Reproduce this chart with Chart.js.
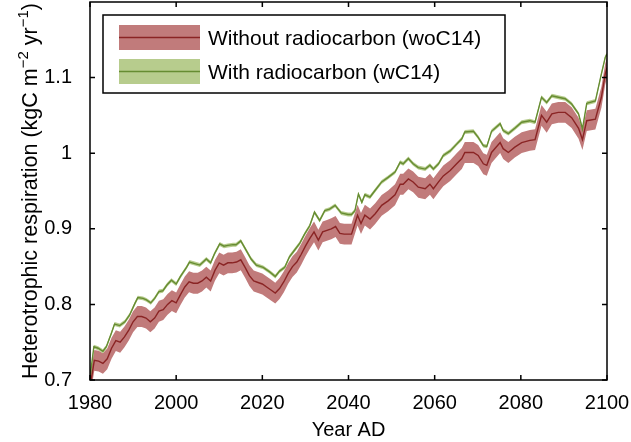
<!DOCTYPE html>
<html>
<head>
<meta charset="utf-8">
<script src="https://cdn.jsdelivr.net/npm/chart.js@4/dist/chart.umd.min.js"></script>
<style>
html, body { margin: 0; padding: 0; background: #fff; }
#wrap { width: 631px; height: 442px; }
</style>
</head>
<body>
<div id="wrap"><canvas id="resp"></canvas></div>
<script>
// heterotrophic respiration, kgC m-2 yr-1
const woYears = [1980, 1981, 1982, 1983, 1984, 1985, 1986, 1987, 1988, 1989,
  1990, 1991, 1992, 1993, 1994, 1995, 1996, 1997, 1998, 1999,
  2000, 2001, 2002, 2003, 2004, 2005, 2006, 2007, 2008, 2009,
  2010, 2011, 2012, 2013, 2014, 2015, 2016, 2017, 2018, 2019,
  2020, 2021, 2022, 2023, 2024, 2025, 2026, 2027, 2028, 2029,
  2030, 2031, 2032, 2033, 2034, 2035, 2036, 2037, 2038, 2039,
  2040.7, 2042.1, 2042.9, 2043.8, 2045, 2046.2, 2047.7, 2049.2, 2050.8, 2052,
  2052.7, 2053.9, 2055, 2056.2, 2057.8, 2058.9, 2059.7, 2060.9, 2062, 2063.6,
  2065.1, 2066.3, 2067, 2069, 2070.1, 2071.3, 2072.1, 2073.2, 2075.2, 2075.9,
  2077.1, 2078.6, 2080.2, 2082.1, 2083.3, 2084.8, 2086, 2087.2, 2088.7, 2090.3,
  2091.8, 2093.4, 2094.3, 2095.3, 2097.3, 2098.7, 2099.6, 2100];
const woC14 = [0.690, 0.726, 0.725, 0.722, 0.728, 0.742, 0.752, 0.750, 0.757, 0.766,
  0.777, 0.784, 0.784, 0.782, 0.777, 0.782, 0.791, 0.793, 0.800, 0.805,
  0.802, 0.813, 0.823, 0.830, 0.828, 0.828, 0.831, 0.836, 0.831, 0.845,
  0.855, 0.852, 0.855, 0.855, 0.856, 0.859, 0.849, 0.838, 0.831, 0.829,
  0.827, 0.823, 0.819, 0.815, 0.821, 0.830, 0.841, 0.850, 0.856, 0.866,
  0.877, 0.887, 0.896, 0.885, 0.896, 0.898, 0.900, 0.903, 0.894, 0.893,
  0.893, 0.918, 0.907, 0.918, 0.913, 0.920, 0.931, 0.937, 0.945, 0.959,
  0.959, 0.966, 0.962, 0.955, 0.953, 0.959, 0.953, 0.962, 0.970, 0.977,
  0.986, 0.993, 1.001, 1.001, 0.997, 0.986, 0.984, 1.001, 1.014, 1.006,
  1.001, 1.008, 1.014, 1.017, 1.018, 1.050, 1.041, 1.052, 1.054, 1.054,
  1.047, 1.033, 1.018, 1.043, 1.045, 1.074, 1.105, 1.113];

const wYears = [1980, 1980.9, 1981.9, 1983, 1983.8, 1984.9, 1985.7, 1986.9, 1988.1, 1989.2,
  1990.4, 1991.1, 1992.3, 1993.1, 1994.1, 1995, 1996, 1996.9, 1997.9, 1998.9,
  2000, 2001, 2002.4, 2003.1, 2004.3, 2005.5, 2007, 2008, 2008.9, 2010.1,
  2011.1, 2012, 2013.2, 2013.9, 2015, 2015.9, 2017.4, 2018.6, 2020.2, 2021.7,
  2023, 2024, 2025.2, 2026.3, 2027.5, 2028.7, 2029.8, 2031, 2032.1, 2033.3,
  2034.5, 2035.6, 2036.9, 2038.3, 2039.9, 2040.7, 2041.5, 2042.3, 2043.1, 2043.8,
  2045, 2046.2, 2047.7, 2049.2, 2050.8, 2052, 2052.7, 2053.9, 2055, 2056.2,
  2057.8, 2058.9, 2059.7, 2060.9, 2062, 2063.6, 2065.1, 2066.3, 2067, 2069,
  2070.1, 2071.3, 2072.1, 2073.2, 2075.2, 2075.9, 2077.1, 2078.6, 2080.2, 2082.1,
  2083.3, 2084.8, 2086, 2087.2, 2088.7, 2090.3, 2091.8, 2093.4, 2094.3, 2095.3,
  2097.3, 2098.7, 2099.6, 2100];
const wC14 = [0.703, 0.744, 0.742, 0.738, 0.744, 0.761, 0.774, 0.772, 0.777, 0.786,
  0.801, 0.809, 0.808, 0.806, 0.802, 0.808, 0.817, 0.818, 0.826, 0.832,
  0.827, 0.837, 0.849, 0.856, 0.854, 0.852, 0.860, 0.855, 0.867, 0.880,
  0.877, 0.878, 0.879, 0.879, 0.884, 0.875, 0.860, 0.852, 0.849, 0.843,
  0.837, 0.844, 0.849, 0.863, 0.872, 0.881, 0.893, 0.904, 0.922, 0.911,
  0.924, 0.926, 0.931, 0.921, 0.919, 0.919, 0.924, 0.946, 0.935, 0.945,
  0.942, 0.951, 0.962, 0.968, 0.975, 0.988, 0.986, 0.993, 0.986, 0.981,
  0.979, 0.984, 0.979, 0.986, 0.997, 1.003, 1.012, 1.019, 1.028, 1.029,
  1.021, 1.010, 1.009, 1.029, 1.039, 1.030, 1.026, 1.033, 1.041, 1.043,
  1.041, 1.074, 1.067, 1.076, 1.074, 1.072, 1.065, 1.052, 1.032, 1.066,
  1.069, 1.105, 1.127, 1.131];

// half width of the shaded ranges
const woHalfWidth = 0.0138;
const wHalfWidth = 0.0026;

const xTicks = [1980, 2000, 2020, 2040, 2060, 2080, 2100];
const yTicks = [0.7, 0.8, 0.9, 1.0, 1.1];
const yTickLabels = ['0.7', '0.8', '0.9', '1', '1.1'];

const FONT = '"Liberation Sans", Arial, sans-serif';
const RED_BAND = 'rgb(193,123,123)';
const RED_LINE = 'rgb(138,36,36)';
const GREEN_BAND = 'rgb(183,204,141)';
const GREEN_LINE = 'rgb(102,140,50)';

function toPoints(xs, ys, shift) {
  return xs.map((x, i) => ({ x: x, y: ys[i] + shift }));
}

function drawYTitle(ctx, cx, cy) {
  const parts = [
    { t: 'Heterotrophic respiration (kgC m', size: 21.5, dy: 0 },
    { t: '\u22122', size: 15, dy: -9 },
    { t: ' yr', size: 21.5, dy: 0 },
    { t: '\u22121', size: 15, dy: -9 },
    { t: ')', size: 21.5, dy: 0 }
  ];
  ctx.save();
  ctx.translate(cx, cy);
  ctx.rotate(-Math.PI / 2);
  ctx.fillStyle = '#000';
  ctx.textBaseline = 'alphabetic';
  ctx.textAlign = 'left';
  let total = 0;
  parts.forEach(p => {
    ctx.font = p.size + 'px ' + FONT;
    p.w = ctx.measureText(p.t).width;
    total += p.w;
  });
  let x = -total / 2;
  parts.forEach(p => {
    ctx.font = p.size + 'px ' + FONT;
    ctx.fillText(p.t, x, 7 + p.dy);
    x += p.w;
  });
  ctx.restore();
}

function drawLegend(ctx) {
  const box = { l: 103, t: 15, r: 505, b: 93 };
  ctx.save();
  ctx.fillStyle = '#fff';
  ctx.fillRect(box.l, box.t, box.r - box.l, box.b - box.t);
  ctx.strokeStyle = '#000';
  ctx.lineWidth = 1.5;
  ctx.strokeRect(box.l, box.t, box.r - box.l, box.b - box.t);
  const rows = [
    { text: 'Without radiocarbon (woC14)', band: RED_BAND, line: RED_LINE, y: 25 },
    { text: 'With radiocarbon (wC14)', band: GREEN_BAND, line: GREEN_LINE, y: 59 }
  ];
  rows.forEach(r => {
    ctx.fillStyle = r.band;
    ctx.fillRect(119, r.y, 81, 25);
    ctx.strokeStyle = r.line;
    ctx.lineWidth = 1.5;
    ctx.beginPath();
    ctx.moveTo(119, r.y + 12.5);
    ctx.lineTo(200, r.y + 12.5);
    ctx.stroke();
    ctx.fillStyle = '#000';
    ctx.font = '21px ' + FONT;
    ctx.textBaseline = 'alphabetic';
    ctx.fillText(r.text, 208, r.y + 20);
  });
  ctx.restore();
}

const axesFrame = {
  id: 'axesFrame',
  afterDraw(chart) {
    const ctx = chart.ctx;
    const { left, right, top, bottom } = chart.chartArea;
    const xs = chart.scales.x, ys = chart.scales.y;
    ctx.save();
    ctx.strokeStyle = '#000';
    ctx.lineWidth = 1.5;
    ctx.strokeRect(left, top, right - left, bottom - top);
    ctx.beginPath();
    xTicks.forEach(v => {
      const px = xs.getPixelForValue(v);
      ctx.moveTo(px, bottom); ctx.lineTo(px, bottom - 5);
      ctx.moveTo(px, top); ctx.lineTo(px, top + 5);
    });
    yTicks.forEach(v => {
      const py = ys.getPixelForValue(v);
      ctx.moveTo(left, py); ctx.lineTo(left + 5, py);
      ctx.moveTo(right, py); ctx.lineTo(right - 5, py);
    });
    ctx.stroke();
    ctx.fillStyle = '#000';
    ctx.font = '20px ' + FONT;
    ctx.textAlign = 'center';
    ctx.textBaseline = 'alphabetic';
    ctx.fillText('Year AD', (left + right) / 2, 436);
    ctx.restore();
    drawYTitle(ctx, 30, (top + bottom) / 2);
    drawLegend(ctx);
  }
};

const band = (data, color, order, fill) => ({
  data: data, borderWidth: 0, borderColor: 'rgba(0,0,0,0)', backgroundColor: color,
  pointRadius: 0, fill: fill, order: order, tension: 0
});
const line = (data, color, order) => ({
  data: data, borderWidth: 1.4, borderColor: color, pointRadius: 0,
  fill: false, order: order, tension: 0
});

new Chart(document.getElementById('resp'), {
  type: 'line',
  data: {
    datasets: [
      band(toPoints(woYears, woC14, -woHalfWidth), RED_BAND, 4, false),
      band(toPoints(woYears, woC14, woHalfWidth), RED_BAND, 4, '-1'),
      line(toPoints(woYears, woC14, 0), RED_LINE, 3),
      band(toPoints(wYears, wC14, -wHalfWidth), GREEN_BAND, 2, false),
      band(toPoints(wYears, wC14, wHalfWidth), GREEN_BAND, 2, '-1'),
      line(toPoints(wYears, wC14, 0), GREEN_LINE, 1)
    ]
  },
  options: {
    responsive: true,
    maintainAspectRatio: false,
    animation: false,
    layout: { padding: { top: 2, right: 24, left: 0, bottom: 0 } },
    plugins: { legend: { display: false }, tooltip: { enabled: false } },
    scales: {
      x: {
        type: 'linear', min: 1980, max: 2100,
        grid: { display: false }, border: { display: false },
        afterBuildTicks: s => { s.ticks = xTicks.map(v => ({ value: v })); },
        afterFit: s => { s.height = 62; s.paddingLeft = 0; s.paddingRight = 0; },
        ticks: { color: '#000', font: { size: 20, family: FONT }, padding: 3,
          maxRotation: 0, autoSkip: false, callback: v => String(v) }
      },
      y: {
        min: 0.7, max: 1.2,
        grid: { display: false }, border: { display: false },
        afterBuildTicks: s => { s.ticks = yTicks.map(v => ({ value: v })); },
        afterFit: s => { s.width = 90; s.paddingTop = 0; s.paddingBottom = 0; },
        ticks: { color: '#000', font: { size: 20, family: FONT }, padding: 10,
          callback: (v, i) => yTickLabels[i] }
      }
    }
  },
  plugins: [axesFrame]
});
</script>
</body>
</html>
